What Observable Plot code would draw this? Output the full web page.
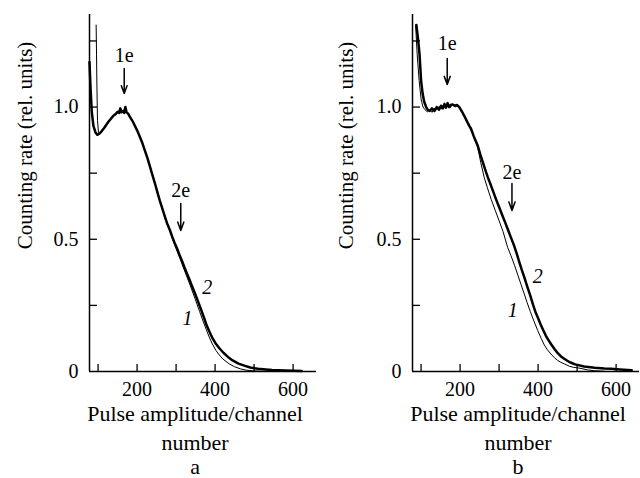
<!DOCTYPE html>
<html><head><meta charset="utf-8">
<script src="https://cdn.jsdelivr.net/npm/d3@7"></script>
<script src="https://cdn.jsdelivr.net/npm/@observablehq/plot@0.6"></script>
<style>
body{margin:0;background:#fff;}
#wrap{display:flex;width:640px;height:478px;overflow:hidden;}
</style></head><body><div id="wrap"></div>
<script>
// ---------- data ----------
const xDomain = [78, 660];
const yDomain = [0, 1.35];
const xTickValues = [100, 200, 300, 400, 500, 600];
const xTickLabels = [200, 400, 600];
const yTickValues = [0.25, 0.5, 0.75, 1, 1.25];
const yTickLabels = [0, 0.5, 1];
const yAxisTitle = "Counting rate (rel. units)";
const xAxisTitle = "Pulse amplitude/channel";
const xAxisTitle2 = "number";
const panelLetters = ["a", "b"];

// panel a, curve 2 (thick)
const a2x = [78,81,84,88,93,98,104,110,116,122,128,134,140,146,150,154,157,160,164,167,170,173,177,182,188,194,200,207,214,220,227,233,240,246,252,258,265,271,277,284,290,296,303,309,316,322,328,335,341,348,355,362,370,377,385,393,401,411,422,433,445,460,475,490,510,530,546,580,622];
const a2y = [1.17,1.06,0.98,0.93,0.905,0.895,0.9,0.91,0.922,0.935,0.947,0.958,0.968,0.975,0.982,0.978,0.995,0.98,0.985,0.978,1.0,0.98,0.975,0.962,0.948,0.93,0.912,0.888,0.862,0.835,0.805,0.775,0.74,0.71,0.678,0.647,0.615,0.587,0.56,0.535,0.51,0.487,0.463,0.44,0.415,0.392,0.37,0.345,0.322,0.297,0.27,0.242,0.21,0.18,0.152,0.127,0.107,0.088,0.07,0.055,0.042,0.03,0.022,0.015,0.01,0.008,0.006,0.004,0.002];
// panel a, curve 1 (thin)
const a1x = [95,96,97,98.5,101,104,110,116,122,128,134,140,146,150,154,158,162,166,170,174,178,182,188,194,200,207,214,220,227,233,240,246,252,258,265,271,277,284,290,300,310,322,335,348,360,368,377,385,393,402,411,420,436,450,465,480,500,520,560];
const a1y = [1.31,1.2,1.08,0.95,0.905,0.898,0.91,0.922,0.935,0.947,0.958,0.968,0.975,0.98,0.985,0.992,0.98,0.99,0.982,0.978,0.972,0.962,0.948,0.93,0.912,0.888,0.862,0.835,0.805,0.775,0.74,0.71,0.678,0.647,0.615,0.587,0.56,0.533,0.505,0.465,0.427,0.38,0.33,0.278,0.228,0.195,0.16,0.13,0.104,0.08,0.062,0.047,0.029,0.018,0.01,0.005,0.002,0.001,0.0];

// panel b, curve 2 (thick)
const b2x = [88,92,96,100,104,108,113,117,122,128,134,140,146,151,156,160,164,168,172,176,181,186,192,198,204,211,218,224,228,235,245,252,258,264,271,278,285,292,300,308,316,323,330,338,345,352,358,365,372,380,387,394,399,406,413,420,427,433,442,450,458,467,480,495,518,545,570,587,610,630,640];
const b2y = [1.31,1.26,1.2,1.1,1.05,1.02,1.0,0.99,0.985,0.995,0.985,1.0,0.99,1.005,0.995,1.012,0.998,1.015,1.0,1.008,1.01,1.005,1.008,1.0,0.985,0.966,0.945,0.928,0.918,0.89,0.855,0.82,0.793,0.765,0.735,0.708,0.68,0.652,0.622,0.592,0.562,0.535,0.508,0.478,0.447,0.413,0.385,0.355,0.322,0.287,0.253,0.222,0.205,0.18,0.157,0.135,0.118,0.104,0.085,0.07,0.058,0.048,0.036,0.027,0.019,0.014,0.011,0.01,0.008,0.006,0.005];
// panel b, curve 1 (thin)
const b1x = [86,90,95,100,105,110,116,122,128,134,140,146,152,158,163,169,175,181,187,193,198,204,211,218,228,235,245,253,262,270,280,290,300,310,322,330.5,340,348,356,364.6,372,380,390,399,408,416,424,433,442,450,458,467,480,490,501,515,527,545,570];
const b1y = [1.31,1.2,1.1,1.03,1.0,0.99,0.982,0.99,0.98,0.995,0.99,1.002,0.992,1.01,0.995,1.008,0.998,1.012,1.0,1.005,0.998,0.985,0.966,0.945,0.918,0.89,0.85,0.79,0.733,0.695,0.65,0.61,0.57,0.53,0.469,0.438,0.4,0.365,0.33,0.293,0.26,0.227,0.188,0.155,0.125,0.1,0.082,0.066,0.052,0.042,0.035,0.029,0.02,0.016,0.014,0.01,0.006,0.003,0.001];

// arrow annotations (label position and arrow span, in data units)
const annA = [
  {label: "1e", x: 167, y: 1.195, y1: 1.146, y2: 1.051},
  {label: "2e", x: 312, y: 0.685, y1: 0.635, y2: 0.533}
];
const annB = [
  {label: "1e", x: 167, y: 1.24, y1: 1.184, y2: 1.085},
  {label: "2e", x: 333, y: 0.753, y1: 0.711, y2: 0.609}
];
// curve number labels
const curveLabA = [{t: "2", x: 380, y: 0.318}, {t: "1", x: 329, y: 0.2}];
const curveLabB = [{t: "2", x: 399, y: 0.357}, {t: "1", x: 335, y: 0.231}];

// ---------- drawing ----------
const FONT = "'Liberation Serif', 'Times New Roman', Times, serif";
function panel(cfg) {
  const c1 = cfg.x1.map((x, i) => ({x, y: cfg.y1[i]}));
  const c2 = cfg.x2.map((x, i) => ({x, y: cfg.y2[i]}));
  const titleOpts = {text: d => d, frameAnchor: "bottom", textAnchor: "middle", lineAnchor: "middle", dx: -8, fontSize: 22, fontFamily: FONT};
  return Plot.plot({
    width: 320, height: 478,
    marginLeft: cfg.ml, marginRight: cfg.mr, marginTop: 14, marginBottom: 107,
    style: {fontFamily: FONT, fontSize: "20px", color: "black", background: "white", overflow: "visible"},
    x: {domain: xDomain, axis: null},
    y: {domain: yDomain, axis: null},
    marks: [
      Plot.axisX({ticks: xTickValues, tickSize: -7, fill: "none", strokeWidth: 1.3, label: null, tickFormat: () => ""}),
      Plot.axisX({ticks: xTickLabels, tickSize: 0, tickPadding: 10, fontSize: 20, fontFamily: FONT, label: null}),
      Plot.axisY({ticks: yTickValues, tickSize: -8, fill: "none", strokeWidth: 1.3, label: null, tickFormat: () => ""}),
      Plot.axisY({ticks: yTickLabels, tickSize: 0, tickPadding: 11, fontSize: 20, fontFamily: FONT, label: null,
                  tickFormat: d => d === 0 ? "0" : d.toFixed(1)}),
      Plot.ruleY([yDomain[0]], {stroke: "black", strokeWidth: 1.5}),
      Plot.ruleX([xDomain[0]], {stroke: "black", strokeWidth: 1.5}),
      Plot.line(c1, {x: "x", y: "y", stroke: "black", strokeWidth: 1}),
      Plot.line(c2, {x: "x", y: "y", stroke: "black", strokeWidth: 2.5}),
      Plot.arrow(cfg.ann, {x1: "x", x2: "x", y1: "y1", y2: "y2", stroke: "black", strokeWidth: 1.5, headLength: 9, headAngle: 40}),
      Plot.text(cfg.ann, {x: "x", y: "y", text: "label", fontSize: 20, fontFamily: FONT}),
      Plot.text(cfg.curveLab, {x: "x", y: "y", text: "t", fontSize: 20, fontStyle: "italic", fontFamily: FONT}),
      Plot.text([yAxisTitle], {text: d => d, frameAnchor: "left", textAnchor: "middle", lineAnchor: "middle", rotate: -90, dx: cfg.ydx, dy: -47.5, fontSize: 21, fontFamily: FONT}),
      Plot.text([xAxisTitle], {...titleOpts, dy: 42.3}),
      Plot.text([xAxisTitle2], {...titleOpts, dy: 71}),
      Plot.text([cfg.letter], {...titleOpts, dy: 95})
    ]
  });
}
const wrap = document.getElementById("wrap");
wrap.append(panel({x1: a1x, y1: a1y, x2: a2x, y2: a2y, ann: annA, curveLab: curveLabA, letter: panelLetters[0], ml: 89, mr: 4, ydx: -64}));
wrap.append(panel({x1: b1x, y1: b1y, x2: b2x, y2: b2y, ann: annB, curveLab: curveLabB, letter: panelLetters[1], ml: 92, mr: 1, ydx: -66}));
</script>
</body></html>
